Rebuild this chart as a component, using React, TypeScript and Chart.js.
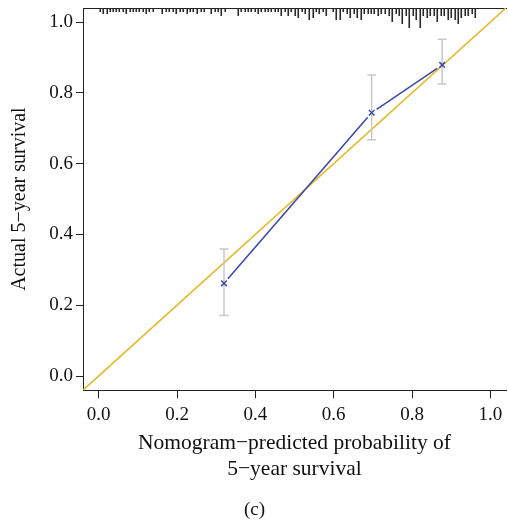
import React, { useEffect, useRef } from "react";
import { Chart, registerables } from "chart.js";

Chart.register(...registerables);

// Calibration points
const predicted = [0.32, 0.697, 0.877];
const observed = [0.262, 0.744, 0.879];
const lower = [0.171, 0.668, 0.825];
const upper = [0.359, 0.851, 0.952];

// Axis ticks
const tickValues = [0, 0.2, 0.4, 0.6, 0.8, 1.0];
const axisMin = -0.04;
const axisMax = 1.04;

// Rug of predicted probabilities (top) and their relative frequencies
const rugX = [
  0.003, 0.011, 0.020, 0.028, 0.037, 0.045, 0.053, 0.062, 0.070, 0.079, 0.087, 0.096, 0.104, 0.112, 0.121, 0.129, 0.138,
  0.162, 0.171, 0.180, 0.189, 0.198, 0.207, 0.216, 0.225, 0.234, 0.242, 0.251, 0.260, 0.269, 0.287, 0.296, 0.305, 0.313, 0.322,
  0.356, 0.364, 0.373, 0.381, 0.390, 0.398, 0.407, 0.415, 0.424, 0.432, 0.441, 0.449, 0.458, 0.466, 0.475,
  0.483, 0.492, 0.501, 0.510, 0.519, 0.528, 0.537, 0.546, 0.555, 0.563, 0.572, 0.581,
  0.598, 0.607, 0.616, 0.624, 0.633, 0.642, 0.651, 0.660, 0.669, 0.678, 0.687, 0.695, 0.704, 0.713, 0.722,
  0.731, 0.740, 0.749, 0.758, 0.766, 0.775, 0.784, 0.793, 0.802, 0.811, 0.820, 0.829, 0.838, 0.846, 0.855, 0.864,
  0.873, 0.882, 0.891, 0.900, 0.909, 0.918, 0.926, 0.935, 0.944, 0.953, 0.962,
];
const rugCount = [
  2, 3, 3, 2, 2, 2, 2, 2, 3, 2, 2, 2, 2, 2, 3, 2, 2,
  3, 2, 2, 2, 3, 2, 2, 3, 2, 2, 3, 2, 2, 3, 2, 2, 4, 2,
  4, 2, 2, 2, 2, 2, 3, 2, 2, 2, 2, 2, 2, 4, 2,
  4, 2, 4, 5, 2, 3, 6, 5, 2, 3, 2, 4,
  2, 6, 6, 2, 3, 5, 3, 5, 6, 3, 3, 3, 3, 4, 3,
  3, 4, 7, 3, 4, 8, 4, 10, 4, 6, 10, 4, 5, 4, 4, 7,
  4, 4, 6, 5, 6, 8, 5, 4, 4, 3, 5,
];

const xTitle = ["Nomogram\u2212predicted probability of", "5\u2212year survival"];
const yTitle = "Actual 5\u2212year survival";
const caption = "(c)";

const BLUE = "#3F4AA8";
const YELLOW = "#E6B92A";
const GRAY = "#C8C8C8";
const FONT = "'Liberation Serif', 'Times New Roman', serif";

const rugPlugin = {
  id: "rugPlugin",
  afterDatasetsDraw(chart: any) {
    const { ctx, chartArea, scales } = chart;
    const xs = scales.x;
    ctx.save();
    ctx.strokeStyle = "#2a2a2a";
    ctx.lineWidth = 1.6;
    ctx.beginPath();
    for (let i = 0; i < rugX.length; i++) {
      const px = Math.round(xs.getPixelForValue(rugX[i])) + 0.25;
      ctx.moveTo(px, chartArea.top);
      ctx.lineTo(px, chartArea.top + rugCount[i] * 2);
    }
    ctx.stroke();
    ctx.restore();
  },
};

const gapLinePlugin = {
  id: "gapLinePlugin",
  afterDatasetsDraw(chart: any) {
    const { ctx, scales } = chart;
    const gap = 6;
    ctx.save();
    ctx.strokeStyle = BLUE;
    ctx.lineWidth = 1.6;
    ctx.beginPath();
    for (let i = 0; i < predicted.length - 1; i++) {
      const x0 = scales.x.getPixelForValue(predicted[i]);
      const y0 = scales.y.getPixelForValue(observed[i]);
      const x1 = scales.x.getPixelForValue(predicted[i + 1]);
      const y1 = scales.y.getPixelForValue(observed[i + 1]);
      const len = Math.hypot(x1 - x0, y1 - y0);
      const dx = (x1 - x0) / len;
      const dy = (y1 - y0) / len;
      ctx.moveTo(x0 + dx * gap, y0 + dy * gap);
      ctx.lineTo(x1 - dx * gap, y1 - dy * gap);
    }
    ctx.stroke();
    ctx.restore();
  },
};

const zeroPadding = (s: any) => {
  s.paddingTop = 0;
  s.paddingBottom = 0;
  s.paddingLeft = 0;
  s.paddingRight = 0;
};

export default function App() {
  const ref = useRef<HTMLCanvasElement | null>(null);

  useEffect(() => {
    if (!ref.current) return;
    const errorSets = predicted.map((p, i) => ({
      type: "line" as const,
      data: [
        { x: p, y: lower[i] },
        { x: p, y: upper[i] },
      ],
      borderColor: GRAY,
      borderWidth: 1.5,
      pointStyle: "line" as const,
      pointRadius: 4.5,
      pointBorderColor: GRAY,
      pointBorderWidth: 1.5,
      pointHoverRadius: 4.5,
      order: 3,
    }));

    const tickFont = { family: FONT, size: 19 };
    const chart = new Chart(ref.current, {
      type: "line",
      data: {
        datasets: [
          {
            data: [
              { x: axisMin, y: axisMin },
              { x: axisMax, y: axisMax },
            ],
            borderColor: YELLOW,
            borderWidth: 1.6,
            pointRadius: 0,
            order: 4,
          },
          ...errorSets,
          {
            data: predicted.map((p, i) => ({ x: p, y: observed[i] })),
            showLine: false,
            pointStyle: "crossRot",
            pointRadius: 4,
            pointBorderColor: BLUE,
            pointBorderWidth: 1.5,
            borderColor: BLUE,
            order: 1,
          },
        ],
      },
      options: {
        animation: false,
        responsive: false,
        devicePixelRatio: 1,
        layout: { padding: { left: 0, top: 8, right: 3, bottom: 0 } },
        plugins: {
          legend: { display: false },
          tooltip: { enabled: false },
          title: {
            display: true,
            text: caption,
            position: "bottom",
            color: "#111",
            font: { family: FONT, size: 19, weight: "normal" },
            padding: { top: 0, bottom: 3 },
          },
        },
        scales: {
          x: {
            type: "linear",
            min: axisMin,
            max: axisMax,
            afterBuildTicks: (s: any) => {
              s.ticks = tickValues.map((v) => ({ value: v }));
            },
            afterFit: (s: any) => {
              s.height = 108;
              zeroPadding(s);
            },
            ticks: {
              color: "#111",
              font: tickFont,
              padding: 5,
              maxRotation: 0,
              callback: (v: any) => Number(v).toFixed(1),
            },
            grid: { drawOnChartArea: false, drawTicks: true, tickLength: 8, tickColor: "#222", tickWidth: 1 },
            border: { display: true, color: "#222", width: 1 },
            title: {
              display: true,
              text: xTitle,
              color: "#111",
              font: { family: FONT, size: 21.5, lineHeight: 1.21 },
              padding: { top: 0, bottom: 16 },
            },
          },
          xTop: {
            type: "linear",
            position: "top",
            min: axisMin,
            max: axisMax,
            afterFit: (s: any) => {
              s.height = 0;
              zeroPadding(s);
            },
            ticks: { display: false },
            grid: { display: false, drawTicks: false },
            border: { display: true, color: "#222", width: 1 },
          },
          y: {
            type: "linear",
            min: axisMin,
            max: axisMax,
            afterBuildTicks: (s: any) => {
              s.ticks = tickValues.map((v) => ({ value: v }));
            },
            afterFit: (s: any) => {
              s.width = 83;
              zeroPadding(s);
            },
            ticks: {
              color: "#111",
              font: tickFont,
              padding: 3,
              callback: (v: any) => Number(v).toFixed(1),
            },
            grid: { drawOnChartArea: false, drawTicks: true, tickLength: 7, tickColor: "#222", tickWidth: 1 },
            border: { display: true, color: "#222", width: 1 },
            title: {
              display: true,
              text: yTitle,
              color: "#111",
              font: { family: FONT, size: 20, lineHeight: 1.2 },
              padding: { top: 8, bottom: 0 },
            },
          },
        },
      },
      plugins: [rugPlugin, gapLinePlugin],
    } as any);
    return () => chart.destroy();
  }, []);

  return (
    <div style={{ position: "absolute", left: 0, top: 0, width: 508, height: 524, overflow: "hidden", background: "#fff" }}>
      <canvas ref={ref} width={512} height={524} style={{ width: 512, height: 524, display: "block" }} />
    </div>
  );
}
